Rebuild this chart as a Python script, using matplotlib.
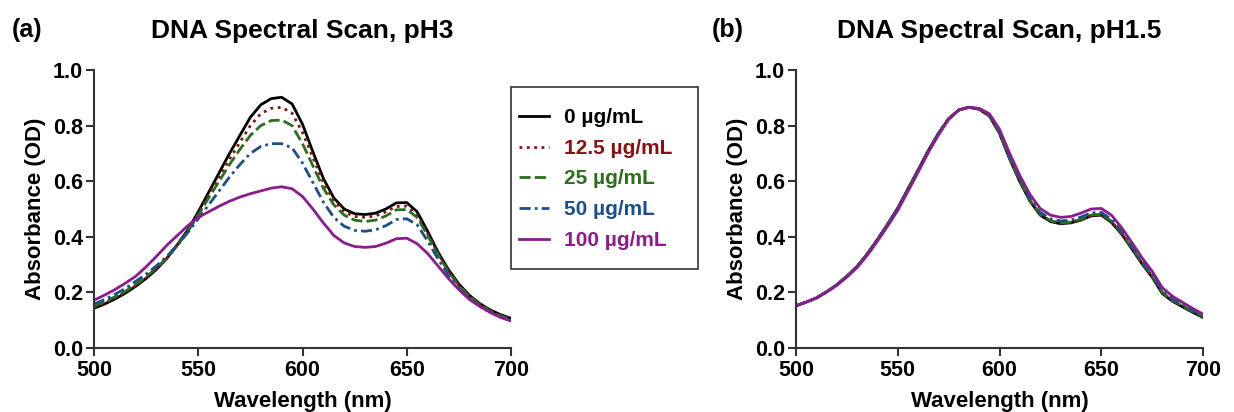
import matplotlib
matplotlib.use("Agg")
import matplotlib.pyplot as plt
from matplotlib.patches import Rectangle
import numpy as np

plt.rcParams["font.family"] = ["Liberation Sans", "DejaVu Sans"]
plt.rcParams["font.weight"] = "bold"

wavelength = np.arange(500, 701, 5)

labels = ["0 µg/mL", "12.5 µg/mL", "25 µg/mL", "50 µg/mL", "100 µg/mL"]
colors = ["#000000", "#8B1010", "#2B6E1B", "#1B4F8C", "#8E1B8E"]
styles = ["-", ":", (0, (4, 1.5)), (0, (4, 1.5, 1, 1.5)), "-"]

# pH3
ph3_0 = [.143, .158, .176, .197, .222, .250, .283, .323, .372, .425,
         .490, .560, .630, .700, .765, .830, .875, .897, .902, .878,
         .805, .705, .610, .540, .500, .483, .480, .485, .500, .522,
         .523, .490, .420, .345, .282, .230, .190, .160, .137, .120, .107]
ph3_12 = [.147, .162, .180, .200, .225, .252, .285, .323, .370, .422,
          .484, .550, .615, .680, .740, .800, .843, .862, .866, .845,
          .775, .685, .595, .530, .490, .473, .470, .475, .490, .509,
          .510, .480, .412, .340, .278, .227, .188, .158, .135, .118, .105]
ph3_25 = [.151, .166, .184, .204, .229, .256, .288, .324, .369, .420,
          .478, .540, .600, .660, .715, .765, .800, .818, .820, .800,
          .735, .655, .575, .515, .478, .460, .455, .460, .475, .497,
          .498, .470, .405, .335, .274, .224, .186, .156, .133, .116, .104]
ph3_50 = [.158, .174, .193, .214, .240, .266, .296, .330, .370, .415,
          .465, .515, .565, .615, .660, .700, .725, .735, .735, .720,
          .665, .595, .525, .470, .438, .423, .420, .425, .440, .462,
          .465, .443, .385, .320, .262, .214, .178, .150, .128, .112, .100]
ph3_100 = [.172, .190, .210, .233, .258, .292, .330, .370, .405, .440,
           .470, .490, .510, .528, .543, .555, .565, .575, .580, .573,
           .545, .500, .450, .405, .378, .365, .362, .365, .377, .393,
           .395, .375, .340, .295, .250, .210, .175, .150, .128, .110, .097]

# pH1.5
ph15_0 = [.152, .165, .180, .202, .227, .258, .293, .338, .390, .445,
          .503, .572, .640, .710, .772, .825, .856, .866, .859, .835,
          .772, .680, .598, .528, .478, .455, .447, .450, .460, .475,
          .478, .452, .410, .357, .303, .255, .196, .168, .148, .128, .110]
ph15_12 = [.152, .165, .180, .202, .227, .258, .293, .338, .390, .445,
           .503, .572, .640, .710, .772, .825, .856, .866, .859, .836,
           .774, .682, .600, .530, .480, .457, .449, .452, .462, .477,
           .480, .455, .412, .360, .306, .258, .199, .170, .150, .130, .112]
ph15_25 = [.152, .165, .180, .202, .227, .258, .293, .338, .390, .445,
           .503, .572, .640, .710, .772, .825, .856, .866, .859, .836,
           .774, .683, .601, .531, .481, .458, .450, .453, .463, .478,
           .481, .456, .414, .361, .307, .259, .200, .171, .151, .131, .113]
ph15_50 = [.152, .165, .180, .202, .227, .258, .293, .338, .390, .444,
           .502, .570, .638, .708, .770, .824, .856, .866, .860, .838,
           .778, .688, .607, .537, .488, .465, .457, .460, .471, .486,
           .488, .463, .420, .367, .312, .264, .205, .176, .155, .135, .116]
ph15_100 = [.152, .165, .180, .201, .225, .255, .289, .333, .384, .438,
            .495, .563, .632, .703, .766, .822, .856, .866, .862, .843,
            .787, .700, .620, .552, .502, .478, .470, .473, .485, .500,
            .502, .478, .433, .380, .325, .276, .217, .186, .164, .142, .122]

panels = [
    ("(a)", "DNA Spectral Scan, pH3", [ph3_0, ph3_12, ph3_25, ph3_50, ph3_100]),
    ("(b)", "DNA Spectral Scan, pH1.5", [ph15_0, ph15_12, ph15_25, ph15_50, ph15_100]),
]

W, H = 1234, 412
fig = plt.figure(figsize=(W / 100, H / 100), dpi=100)
ax_a = fig.add_axes([94 / W, 1 - 348 / H, (511 - 94) / W, (348 - 70) / H])
ax_b = fig.add_axes([796 / W, 1 - 348 / H, (1203 - 796) / W, (348 - 70) / H])

for ax, (tag, title, series) in zip([ax_a, ax_b], panels):
    for ys, c, ls, lab in zip(series, colors, styles, labels):
        ax.plot(wavelength, ys, color=c, ls=ls, lw=2.0, label=lab)
    ax.set_xlim(500, 700)
    ax.set_ylim(0, 1.0)
    ax.set_xticks([500, 550, 600, 650, 700])
    ax.set_yticks([0.0, 0.2, 0.4, 0.6, 0.8, 1.0])
    ax.set_yticklabels([f"{v:.1f}" for v in ax.get_yticks()])
    for s in ["top", "right"]:
        ax.spines[s].set_visible(False)
    for s in ["left", "bottom"]:
        ax.spines[s].set_linewidth(1.5)
        ax.spines[s].set_color("#333333")
    ax.tick_params(direction="out", length=6, width=1.5, color="#333333",
                   labelsize=15.5, pad=2)
    ax.tick_params(axis="x", pad=3)
    ax.set_xlabel("Wavelength (nm)", fontsize=16, fontweight="bold", labelpad=7)
    ax.set_ylabel("Absorbance (OD)", fontsize=16, fontweight="bold", labelpad=5)
    ax.set_title(title, fontsize=19, fontweight="bold", pad=23)

fig.text(12 / W, 1 - 30 / H, "(a)", fontsize=18, fontweight="bold", va="center")
fig.text(712 / W, 1 - 30 / H, "(b)", fontsize=18, fontweight="bold", va="center")

# legend box drawn separately so its size matches the original frame
fig.patches.append(Rectangle((511 / W, 1 - 269 / H), (698 - 511) / W, (269 - 87) / H,
                             transform=fig.transFigure, fill=False,
                             edgecolor="#333333", lw=1.2))
leg = ax_a.legend(loc="center", bbox_to_anchor=(596 / W, 1 - 179 / H),
                  bbox_transform=fig.transFigure, frameon=False,
                  fontsize=15, handlelength=1.4, labelspacing=0.56,
                  handletextpad=0.75, borderpad=0)
for txt, c in zip(leg.get_texts(), colors):
    txt.set_color(c)
    txt.set_fontweight("bold")

fig.savefig("out.png", dpi=100)
